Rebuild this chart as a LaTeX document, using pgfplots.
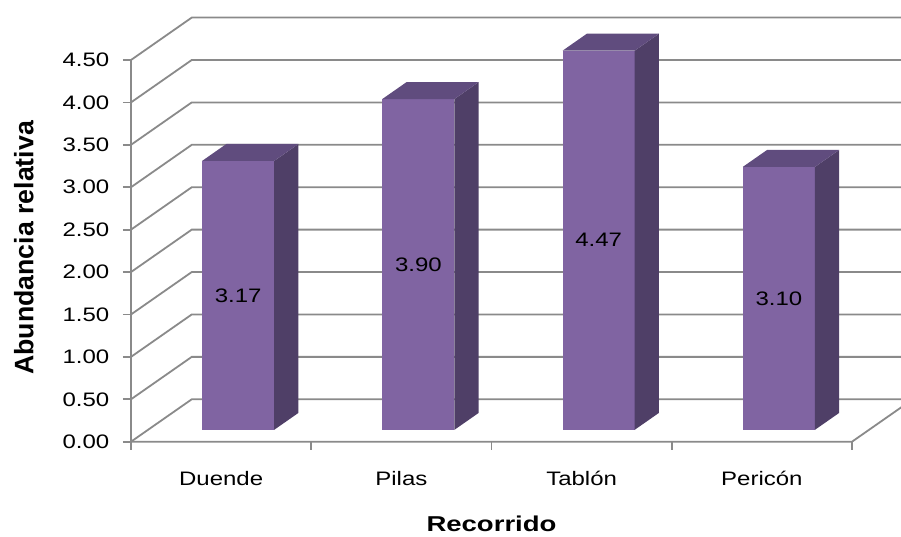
\documentclass[border=0pt]{standalone}
\usepackage{pgfplots}
\pgfplotsset{compat=1.18}
\usepackage{pgfplotstable}
\usepackage{fontspec}
\setmainfont{Liberation Sans}
\definecolor{barfront}{HTML}{8064A2}
\definecolor{bartop}{HTML}{604C7E}
\definecolor{barside}{HTML}{4F3F67}
\definecolor{gridc}{HTML}{8A8A8A}

\pgfplotstableread{
idx value
0 3.17
1 3.90
2 4.47
3 3.10
}\datatable

\tikzset{vlabel/.style={font=\fontsize{19.5}{23}\selectfont, xscale=1.23, inner sep=0pt}}

\begin{document}
\begin{tikzpicture}[x=1pt,y=1pt]
\begin{axis}[
  at={(131pt,94.3pt)}, anchor=south west,
  scale only axis, width=721pt, height=381.7pt,
  xmin=-0.5, xmax=3.5, ymin=0, ymax=4.5,
  clip=false,
  axis x line*=bottom, axis y line*=left,
  axis line style={draw=none},
  /pgf/number format/assume math mode=true,
  tick align=outside,
  major tick length=8pt,
  xtick={0,1,2,3},
  xticklabels={Duende,Pilas,Tablón,Pericón},
  xtick style={draw=none},
  ytick={0,0.5,...,4.5},
  ytick style={gridc, line width=1.8pt},
  tick label style={font=\fontsize{19.5}{23}\selectfont, xscale=1.23},
  yticklabel style={anchor=east, inner sep=0pt, xshift=-11pt, /pgf/number format/.cd, fixed, fixed zerofill, precision=2},
  xticklabel style={anchor=base, yshift=-36pt},
  xlabel={Recorrido},
  xlabel style={at={(axis description cs:0.5,0)}, anchor=base, yshift=-89.3pt,
    font=\bfseries\fontsize{21.5}{25}\selectfont, xscale=1.28},
  ylabel={Abundancia relativa},
  ylabel style={at={(axis description cs:0,0.5)}, anchor=base, yshift=97.7pt, xshift=3pt,
    font=\bfseries\fontsize{26.7}{30}\selectfont},
]
% walls and grid
\pgfplotsinvokeforeach{0,0.5,1,1.5,2,2.5,3,3.5,4,4.5}{
  \pgfmathsetmacro\Yb{#1+0.5}
  \edef\temp{\noexpand\draw[gridc, line width=1.8pt] (axis cs:-0.5,#1) -- (axis cs:-0.163,\Yb) -- (axis cs:3.837,\Yb);}
  \temp
}
% front axis lines and floor
\draw[gridc, line width=1.8pt] (axis cs:-0.5,4.5) -- (axis cs:-0.5,0) -- (axis cs:3.5,0) -- (axis cs:3.837,0.5);
% x boundary ticks
\pgfplotsinvokeforeach{-0.5,0.5,1.5,2.5,3.5}{
  \draw[gridc, line width=1.8pt] (axis cs:#1,0) -- ++(0pt,-8pt);
}
% bars
\pgfplotsinvokeforeach{0,1,2,3}{
  \pgfplotstablegetelem{#1}{value}\of\datatable
  \pgfmathsetmacro\V{\pgfplotsretval}
  \pgfmathsetmacro\xm{#1+0.28*0.337}
  \pgfmathsetmacro\xa{\xm-0.2}
  \pgfmathsetmacro\xb{\xm+0.2}
  \pgfmathsetmacro\xc{\xb+0.4*0.337}
  \pgfmathsetmacro\xd{\xa+0.4*0.337}
  \pgfmathsetmacro\ya{0.28*0.5}
  \pgfmathsetmacro\yb{\ya+\V}
  \pgfmathsetmacro\yc{\ya+0.4*0.5}
  \pgfmathsetmacro\yd{\yb+0.4*0.5}
  \pgfmathsetmacro\ym{\ya+\V/2}
  \edef\temp{%
    \noexpand\addplot[draw=none, fill=barfront] coordinates {(\xa,\ya) (\xb,\ya) (\xb,\yb) (\xa,\yb)} --cycle;
    \noexpand\addplot[draw=none, fill=barside] coordinates {(\xb,\ya) (\xc,\yc) (\xc,\yd) (\xb,\yb)} --cycle;
    \noexpand\addplot[draw=none, fill=bartop] coordinates {(\xa,\yb) (\xb,\yb) (\xc,\yd) (\xd,\yd)} --cycle;
    \noexpand\node[vlabel] at (axis cs:\xm,\ym) {\noexpand\pgfmathprintnumber[fixed,fixed zerofill,precision=2,assume math mode=true]{\V}};
  }%
  \temp
}
\end{axis}
\pgfresetboundingbox
\useasboundingbox (0,0) rectangle (901,536);
\end{tikzpicture}
\end{document}
